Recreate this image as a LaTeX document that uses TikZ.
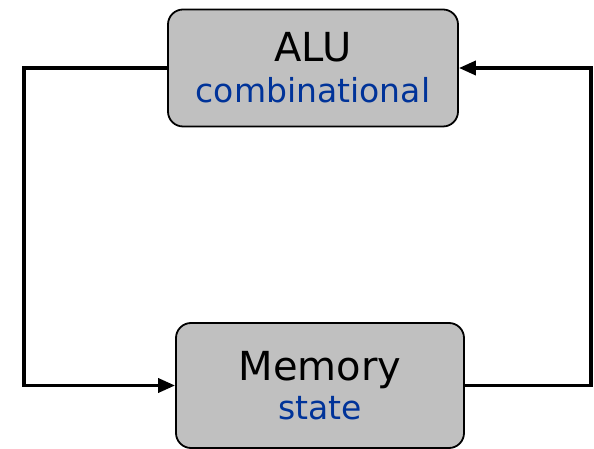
\documentclass[tikz,border=0pt]{standalone}
\usepackage{fontspec}
\setmainfont{DejaVu Sans}
\usetikzlibrary{arrows.meta,positioning}

\definecolor{boxgray}{RGB}{192,192,192}
\definecolor{subblue}{RGB}{0,51,153}

\begin{document}
\begin{tikzpicture}[
  x=1pt, y=1pt,
  >=Triangle,
  unit/.style={draw=black, line width=1.8pt, fill=boxgray, rounded corners=15pt,
    align=center, inner sep=0pt, font=\fontsize{40}{44}\selectfont},
  link/.style={line width=3.6pt, -{Triangle[length=17pt, width=14pt]}}
]
\path[use as bounding box] (0,0) rectangle (594,449);

\node[unit, minimum width=290pt, minimum height=117pt] (alu) at (313,381)
  {ALU\\[-3pt]{\fontsize{33}{44}\selectfont\color{subblue}combinational}};
\node[unit, minimum width=288pt, minimum height=125pt] (mem) at (320,63.5)
  {Memory\\[-5pt]{\fontsize{33}{44}\selectfont\color{subblue}state}};

% feedback loop between the two units
\draw[link] (alu.west) -- ++(-143,0) |- (mem.west);
\draw[link] (mem.east) -- ++(126,0) |- (alu.east);
\end{tikzpicture}
\end{document}
